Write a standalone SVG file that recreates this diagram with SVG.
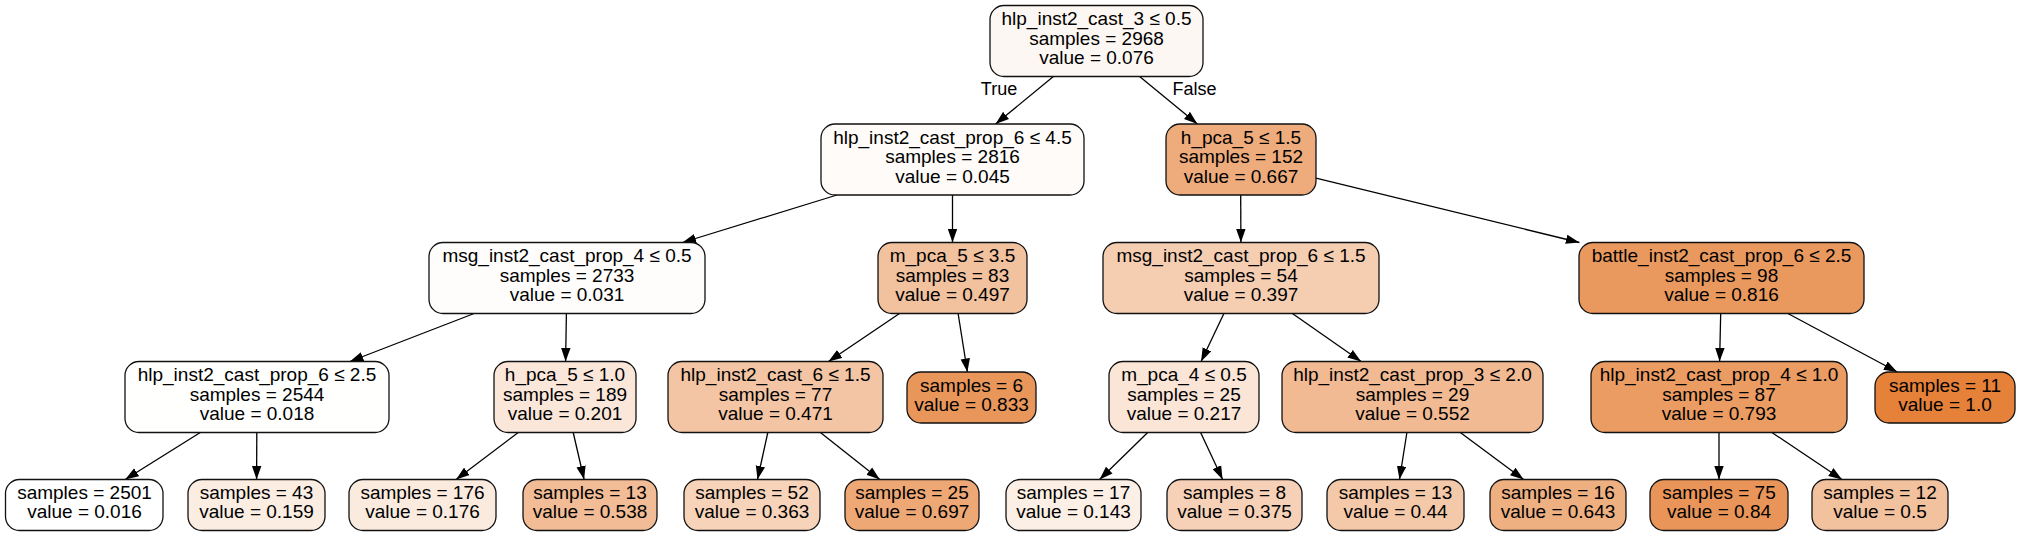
<svg xmlns="http://www.w3.org/2000/svg" width="2017" height="536" viewBox="0 0 2017 536">
<defs>
<marker id="ah" markerUnits="userSpaceOnUse" markerWidth="14" markerHeight="10" refX="13.5" refY="5" orient="auto">
<path d="M0,0.3 L13.5,5 L0,9.7 Z" fill="#000"/>
</marker>
<style>
rect{stroke:#111;stroke-width:1.3}
text{font-family:"Liberation Sans",Arial,sans-serif;font-size:19px;fill:#000;text-anchor:middle}
.e line{stroke:#000;stroke-width:1.3;marker-end:url(#ah)}
</style>
</defs>
<rect width="2017" height="536" fill="#fff" style="stroke:none"/>
<g class="e" id="edges">
<line x1="1053.4" y1="76.5" x2="995.6" y2="124"/>
<line x1="1139.6" y1="76.5" x2="1197.4" y2="124"/>
<line x1="837" y1="195" x2="682.5" y2="242.5"/>
<line x1="952.5" y1="195" x2="952.5" y2="242.5"/>
<line x1="1240.7" y1="195" x2="1240.9" y2="242.5"/>
<line x1="1315" y1="177.9" x2="1579.4" y2="242.5"/>
<line x1="474.1" y1="313.5" x2="349.9" y2="361.5"/>
<line x1="566.4" y1="313.5" x2="565.6" y2="361.5"/>
<line x1="899.5" y1="313.5" x2="828.5" y2="361.5"/>
<line x1="958.1" y1="313.5" x2="967.4" y2="372"/>
<line x1="1223.9" y1="313.5" x2="1201.1" y2="361.5"/>
<line x1="1292.4" y1="313.5" x2="1361.1" y2="361.5"/>
<line x1="1720.7" y1="313.5" x2="1719.6" y2="361.5"/>
<line x1="1787.9" y1="313.5" x2="1897.3" y2="372"/>
<line x1="200.3" y1="432.5" x2="125.2" y2="479.5"/>
<line x1="256.8" y1="432.5" x2="256.6" y2="479.5"/>
<line x1="518.2" y1="432.5" x2="456.1" y2="479.5"/>
<line x1="573.2" y1="432.5" x2="584.1" y2="479.5"/>
<line x1="767.8" y1="432.5" x2="757.5" y2="479.5"/>
<line x1="820.4" y1="432.5" x2="879.8" y2="479.5"/>
<line x1="1147.7" y1="432.5" x2="1099.6" y2="479.5"/>
<line x1="1200.6" y1="432.5" x2="1222.6" y2="479.5"/>
<line x1="1406.9" y1="432.5" x2="1399.5" y2="479.5"/>
<line x1="1460.3" y1="432.5" x2="1523.6" y2="479.5"/>
<line x1="1719" y1="432.5" x2="1719" y2="479.5"/>
<line x1="1771.9" y1="432.5" x2="1842" y2="479.5"/>
<text x="999" y="95" style="font-size:18px">True</text>
<text x="1194.5" y="95" style="font-size:18px">False</text>
</g>
<g id="n0"><rect x="990" y="5.5" width="213" height="71" rx="14" fill="#fdf7f3"/><text x="1096.5" y="25">hlp_inst2_cast_3 ≤ 0.5</text><text x="1096.5" y="44.5">samples = 2968</text><text x="1096.5" y="64">value = 0.076</text></g>
<g id="n1"><rect x="821" y="124" width="263" height="71" rx="14" fill="#fefbf9"/><text x="952.5" y="143.5">hlp_inst2_cast_prop_6 ≤ 4.5</text><text x="952.5" y="163">samples = 2816</text><text x="952.5" y="182.5">value = 0.045</text></g>
<g id="n2"><rect x="1166" y="124" width="150" height="71" rx="14" fill="#eeac7c"/><text x="1241" y="143.5">h_pca_5 ≤ 1.5</text><text x="1241" y="163">samples = 152</text><text x="1241" y="182.5">value = 0.667</text></g>
<g id="n3"><rect x="429" y="242.5" width="276" height="71" rx="14" fill="#fefdfc"/><text x="567" y="262">msg_inst2_cast_prop_4 ≤ 0.5</text><text x="567" y="281.5">samples = 2733</text><text x="567" y="301">value = 0.031</text></g>
<g id="n4"><rect x="878" y="242.5" width="149" height="71" rx="14" fill="#f2c19e"/><text x="952.5" y="262">m_pca_5 ≤ 3.5</text><text x="952.5" y="281.5">samples = 83</text><text x="952.5" y="301">value = 0.497</text></g>
<g id="n5"><rect x="1103" y="242.5" width="276" height="71" rx="14" fill="#f5ceb2"/><text x="1241" y="262">msg_inst2_cast_prop_6 ≤ 1.5</text><text x="1241" y="281.5">samples = 54</text><text x="1241" y="301">value = 0.397</text></g>
<g id="n6"><rect x="1579" y="242.5" width="285" height="71" rx="14" fill="#ea995e"/><text x="1721.5" y="262">battle_inst2_cast_prop_6 ≤ 2.5</text><text x="1721.5" y="281.5">samples = 98</text><text x="1721.5" y="301">value = 0.816</text></g>
<g id="n7"><rect x="125" y="361.5" width="264" height="71" rx="14" fill="#fffffe"/><text x="257" y="381">hlp_inst2_cast_prop_6 ≤ 2.5</text><text x="257" y="400.5">samples = 2544</text><text x="257" y="420">value = 0.018</text></g>
<g id="n8"><rect x="494" y="361.5" width="142" height="71" rx="14" fill="#fae7da"/><text x="565" y="381">h_pca_5 ≤ 1.0</text><text x="565" y="400.5">samples = 189</text><text x="565" y="420">value = 0.201</text></g>
<g id="n9"><rect x="668" y="361.5" width="215" height="71" rx="14" fill="#f3c5a4"/><text x="775.5" y="381">hlp_inst2_cast_6 ≤ 1.5</text><text x="775.5" y="400.5">samples = 77</text><text x="775.5" y="420">value = 0.471</text></g>
<g id="n10"><rect x="907" y="372" width="129" height="51" rx="14" fill="#e9965b"/><text x="971.5" y="391.5">samples = 6</text><text x="971.5" y="410.5">value = 0.833</text></g>
<g id="n11"><rect x="1109" y="361.5" width="150" height="71" rx="14" fill="#fae5d7"/><text x="1184" y="381">m_pca_4 ≤ 0.5</text><text x="1184" y="400.5">samples = 25</text><text x="1184" y="420">value = 0.217</text></g>
<g id="n12"><rect x="1282" y="361.5" width="261" height="71" rx="14" fill="#f1ba93"/><text x="1412.5" y="381">hlp_inst2_cast_prop_3 ≤ 2.0</text><text x="1412.5" y="400.5">samples = 29</text><text x="1412.5" y="420">value = 0.552</text></g>
<g id="n13"><rect x="1591" y="361.5" width="256" height="71" rx="14" fill="#ea9c63"/><text x="1719" y="381">hlp_inst2_cast_prop_4 ≤ 1.0</text><text x="1719" y="400.5">samples = 87</text><text x="1719" y="420">value = 0.793</text></g>
<g id="n14"><rect x="1875" y="372" width="140" height="51" rx="14" fill="#e58139"/><text x="1945" y="391.5">samples = 11</text><text x="1945" y="410.5">value = 1.0</text></g>
<g id="n15"><rect x="5.5" y="479.5" width="157.5" height="51" rx="14" fill="#ffffff"/><text x="84.5" y="499">samples = 2501</text><text x="84.5" y="518">value = 0.016</text></g>
<g id="n16"><rect x="188" y="479.5" width="137" height="51" rx="14" fill="#fbede2"/><text x="256.5" y="499">samples = 43</text><text x="256.5" y="518">value = 0.159</text></g>
<g id="n17"><rect x="349" y="479.5" width="147" height="51" rx="14" fill="#fbebdf"/><text x="422.5" y="499">samples = 176</text><text x="422.5" y="518">value = 0.176</text></g>
<g id="n18"><rect x="523" y="479.5" width="134" height="51" rx="14" fill="#f1bc96"/><text x="590" y="499">samples = 13</text><text x="590" y="518">value = 0.538</text></g>
<g id="n19"><rect x="684" y="479.5" width="136" height="51" rx="14" fill="#f6d3b9"/><text x="752" y="499">samples = 52</text><text x="752" y="518">value = 0.363</text></g>
<g id="n20"><rect x="845" y="479.5" width="134" height="51" rx="14" fill="#eda876"/><text x="912" y="499">samples = 25</text><text x="912" y="518">value = 0.697</text></g>
<g id="n21"><rect x="1006" y="479.5" width="135" height="51" rx="14" fill="#fcefe5"/><text x="1073.5" y="499">samples = 17</text><text x="1073.5" y="518">value = 0.143</text></g>
<g id="n22"><rect x="1167" y="479.5" width="135" height="51" rx="14" fill="#f6d1b7"/><text x="1234.5" y="499">samples = 8</text><text x="1234.5" y="518">value = 0.375</text></g>
<g id="n23"><rect x="1327" y="479.5" width="137" height="51" rx="14" fill="#f4c9aa"/><text x="1395.5" y="499">samples = 13</text><text x="1395.5" y="518">value = 0.44</text></g>
<g id="n24"><rect x="1490" y="479.5" width="136" height="51" rx="14" fill="#eeaf81"/><text x="1558" y="499">samples = 16</text><text x="1558" y="518">value = 0.643</text></g>
<g id="n25"><rect x="1650" y="479.5" width="138" height="51" rx="14" fill="#e99559"/><text x="1719" y="499">samples = 75</text><text x="1719" y="518">value = 0.84</text></g>
<g id="n26"><rect x="1812" y="479.5" width="136" height="51" rx="14" fill="#f2c19e"/><text x="1880" y="499">samples = 12</text><text x="1880" y="518">value = 0.5</text></g>
</svg>
